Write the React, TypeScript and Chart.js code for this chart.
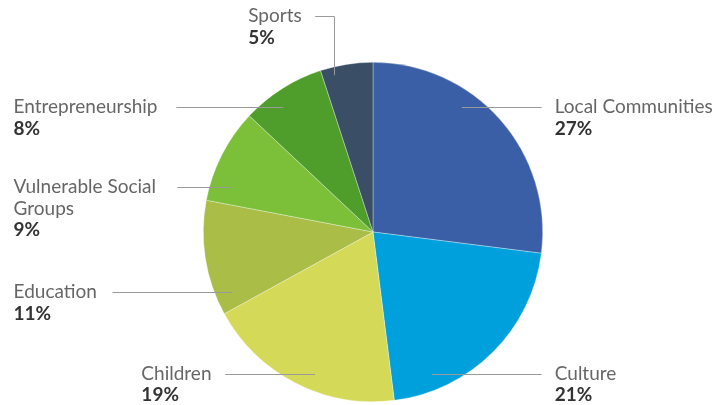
import React, { useEffect, useRef } from "react";
import { Chart, registerables } from "chart.js";

Chart.register(...registerables);

const categories = ["Local Communities", "Culture", "Children", "Education", "Vulnerable Social Groups", "Entrepreneurship", "Sports"];
const labelLines = [["Local Communities"], ["Culture"], ["Children"], ["Education"], ["Vulnerable Social", "Groups"], ["Entrepreneurship"], ["Sports"]];
const shares = [27, 21, 19, 11, 9, 8, 5];
const colors = ["#3a5fa6", "#00a0dc", "#d4d957", "#aabd46", "#7cc03a", "#4f9d2a", "#3a4f66"];

// label layout in units of the pie radius, relative to the pie centre
const labelLayout: { tx: number; ly: number; ix: number; ox: number; side: string; elbowY?: number }[] = [
  { tx: 1.071, ly: -0.735, ix: 0.524, ox: 0.994, side: "right" },
  { tx: 1.071, ly: 0.835, ix: 0.347, ox: 0.994, side: "right" },
  { tx: -1.365, ly: 0.835, ix: -0.341, ox: -0.871, side: "left" },
  { tx: -2.118, ly: 0.353, ix: -0.829, ox: -1.535, side: "left" },
  { tx: -2.118, ly: -0.265, ix: -0.829, ox: -1.153, side: "left" },
  { tx: -2.118, ly: -0.735, ix: -0.529, ox: -1.159, side: "left" },
  { tx: -0.735, ly: -1.271, ix: -0.229, ox: -0.341, side: "elbow", elbowY: -0.924 },
];

const FONT = "Lato, 'Open Sans', sans-serif";

const labelPlugin = {
  id: "pieLabels",
  afterDraw(chart: any) {
    const meta = chart.getDatasetMeta(0);
    const arc = meta.data[0];
    if (!arc) return;
    const cx = arc.x;
    const cy = arc.y;
    const r = arc.outerRadius;
    const ctx = chart.ctx;
    ctx.save();
    labelLayout.forEach((L, i) => {
      const ly = cy + L.ly * r;
      ctx.strokeStyle = "#9a9a9a";
      ctx.lineWidth = 1;
      ctx.beginPath();
      if (L.side === "elbow") {
        const ex = cx + L.ix * r;
        ctx.moveTo(cx + L.ox * r, Math.round(ly) + 0.5);
        ctx.lineTo(Math.round(ex) + 0.5, Math.round(ly) + 0.5);
        ctx.lineTo(Math.round(ex) + 0.5, cy + (L.elbowY as number) * r);
      } else {
        ctx.moveTo(cx + L.ix * r, Math.round(ly) + 0.5);
        ctx.lineTo(cx + L.ox * r, Math.round(ly) + 0.5);
      }
      ctx.stroke();

      const tx = cx + L.tx * r;
      ctx.textAlign = "left";
      ctx.textBaseline = "middle";
      ctx.font = `19px ${FONT}`;
      ctx.fillStyle = "#666666";
      const lines = labelLines[i];
      lines.forEach((t, k) => {
        ctx.fillText(t, tx, ly + k * 21.5);
      });
      ctx.font = `bold 19px ${FONT}`;
      ctx.fillStyle = "#333333";
      ctx.fillText(`${shares[i]}%`, tx, ly + lines.length * 21.5);
    });
    ctx.restore();
  },
};

export default function App() {
  const ref = useRef<HTMLCanvasElement>(null);
  useEffect(() => {
    document.body.style.margin = "0";
    const chart = new Chart(ref.current as HTMLCanvasElement, {
      type: "pie",
      data: {
        labels: categories,
        datasets: [
          {
            data: shares,
            backgroundColor: colors,
            borderColor: "rgba(255,255,255,0.55)",
            borderWidth: 0.6,
          },
        ],
      },
      options: {
        responsive: false,
        animation: false,
        layout: { padding: { left: 203, right: 180, top: 62, bottom: 3 } },
        plugins: { legend: { display: false }, tooltip: { enabled: false } },
      },
      plugins: [labelPlugin],
    });
    return () => chart.destroy();
  }, []);
  return (
    <div style={{ position: "absolute", left: 0, top: 0, width: 723, height: 405, background: "#fff" }}>
      <canvas ref={ref} width={723} height={405} />
    </div>
  );
}
